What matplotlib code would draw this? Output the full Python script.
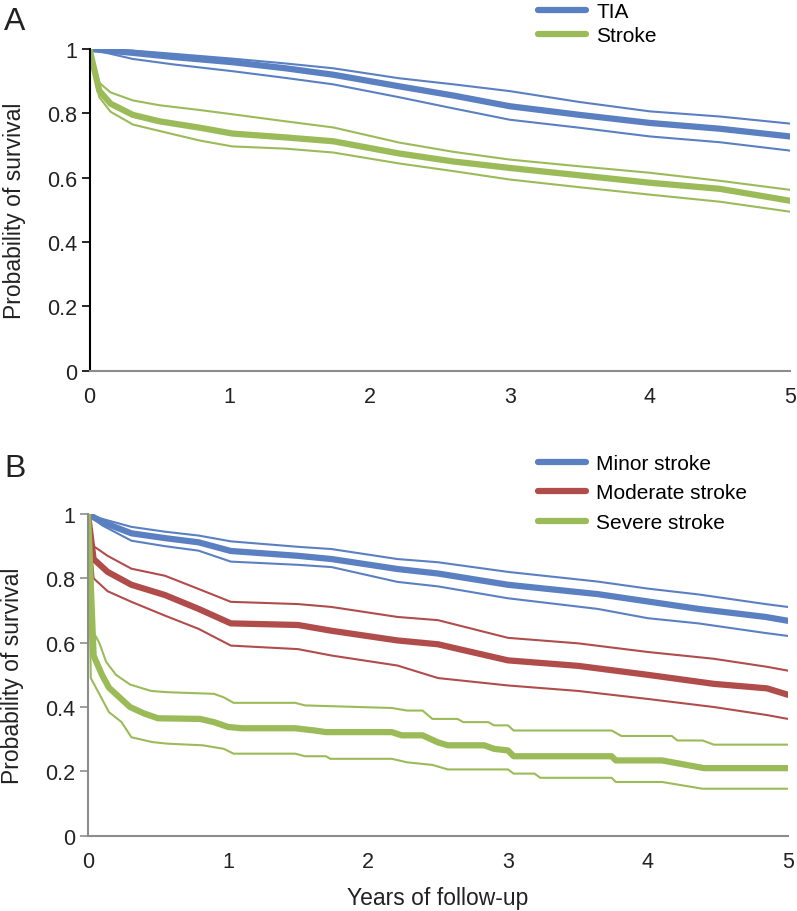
import matplotlib
matplotlib.use('Agg')
import matplotlib.pyplot as plt

plt.rcParams['font.family'] = ['Liberation Sans', 'DejaVu Sans']

# Panel A: TIA vs stroke (estimate, upper CI, lower CI)
tia_x = [0, 0.31, 0.6, 1.02, 1.4, 1.74, 2.21, 2.6, 3.0, 3.5, 4.0, 4.5, 5]
tia_mid = [1, 0.988, 0.975, 0.959, 0.94, 0.92, 0.884, 0.855, 0.822, 0.795, 0.77, 0.752, 0.728]
tia_hi = [1, 0.995, 0.985, 0.97, 0.955, 0.94, 0.909, 0.89, 0.869, 0.835, 0.806, 0.79, 0.768]
tia_lo = [1, 0.969, 0.952, 0.931, 0.91, 0.89, 0.85, 0.815, 0.78, 0.755, 0.728, 0.71, 0.684]

stroke_x = [0, 0.07, 0.15, 0.31, 0.5, 0.79, 1.02, 1.4, 1.74, 2.21, 2.6, 3.0, 3.5, 4.0, 4.5, 5]
stroke_mid = [1, 0.87, 0.83, 0.795, 0.775, 0.755, 0.737, 0.725, 0.713, 0.675, 0.65, 0.63, 0.607, 0.584, 0.565, 0.528]
stroke_hi = [1, 0.895, 0.865, 0.84, 0.825, 0.81, 0.797, 0.775, 0.756, 0.709, 0.68, 0.656, 0.635, 0.615, 0.59, 0.562]
stroke_lo = [1, 0.85, 0.805, 0.765, 0.745, 0.715, 0.697, 0.69, 0.678, 0.644, 0.62, 0.594, 0.57, 0.547, 0.525, 0.494]

# Panel B: by severity
minor_x = [0, 0.1, 0.31, 0.55, 0.79, 1.02, 1.5, 1.74, 2.21, 2.5, 3.0, 3.64, 4.0, 4.36, 4.84, 5]
minor_mid = [1, 0.975, 0.94, 0.925, 0.912, 0.885, 0.87, 0.86, 0.829, 0.815, 0.78, 0.751, 0.728, 0.705, 0.68, 0.668]
minor_hi = [1, 0.985, 0.96, 0.945, 0.933, 0.915, 0.898, 0.891, 0.86, 0.85, 0.82, 0.79, 0.768, 0.75, 0.72, 0.711]
minor_lo = [1, 0.965, 0.917, 0.9, 0.886, 0.852, 0.842, 0.835, 0.789, 0.775, 0.738, 0.705, 0.676, 0.66, 0.63, 0.621]

mod_x = [0, 0.04, 0.14, 0.31, 0.55, 0.79, 1.02, 1.5, 1.74, 2.21, 2.5, 3.0, 3.5, 4.0, 4.47, 4.85, 5]
mod_mid = [1, 0.86, 0.82, 0.78, 0.748, 0.705, 0.66, 0.655, 0.637, 0.607, 0.595, 0.545, 0.528, 0.5, 0.472, 0.458, 0.438]
mod_hi = [1, 0.9, 0.87, 0.83, 0.808, 0.767, 0.727, 0.72, 0.711, 0.68, 0.67, 0.615, 0.598, 0.571, 0.55, 0.525, 0.513]
mod_lo = [1, 0.8, 0.76, 0.727, 0.684, 0.643, 0.591, 0.58, 0.56, 0.529, 0.49, 0.467, 0.45, 0.425, 0.4, 0.375, 0.363]

sev_mid_x = [0, 0.04, 0.1, 0.15, 0.2, 0.3, 0.4, 0.5, 0.8, 0.9, 1.0, 1.1, 1.48, 1.62, 1.7, 2.17, 2.24, 2.39,
             2.5, 2.57, 2.83, 2.9, 3.0, 3.04, 3.74, 3.77, 4.1, 4.4, 5]
sev_mid = [1, 0.56, 0.5, 0.46, 0.44, 0.4, 0.38, 0.365, 0.363, 0.353, 0.338, 0.334, 0.334, 0.327, 0.322, 0.322,
           0.312, 0.312, 0.29, 0.281, 0.281, 0.27, 0.265, 0.247, 0.247, 0.234, 0.234, 0.21, 0.21]
sev_hi_x = [0, 0.03, 0.08, 0.13, 0.2, 0.3, 0.45, 0.57, 0.9, 0.97, 1.04, 1.48, 1.55, 2.17, 2.28, 2.39, 2.46,
            2.64, 2.68, 2.86, 2.9, 3.0, 3.04, 3.74, 3.81, 4.17, 4.21, 4.39, 4.47, 5]
sev_hi = [1, 0.64, 0.6, 0.54, 0.5, 0.47, 0.45, 0.446, 0.441, 0.43, 0.413, 0.413, 0.405, 0.397, 0.389, 0.389,
          0.363, 0.363, 0.353, 0.353, 0.343, 0.343, 0.327, 0.327, 0.31, 0.31, 0.296, 0.296, 0.283, 0.283]
sev_lo_x = [0, 0.02, 0.15, 0.24, 0.31, 0.46, 0.57, 0.82, 0.97, 1.04, 1.48, 1.55, 1.7, 1.73, 2.17, 2.28, 2.46,
            2.57, 3.0, 3.04, 3.19, 3.23, 3.74, 3.77, 4.1, 4.39, 5]
sev_lo = [1, 0.49, 0.384, 0.353, 0.306, 0.291, 0.286, 0.281, 0.27, 0.255, 0.255, 0.247, 0.247, 0.239, 0.239,
          0.228, 0.22, 0.206, 0.206, 0.193, 0.193, 0.18, 0.18, 0.167, 0.167, 0.146, 0.146]

blue = '#5a80c2'
red = '#b04d4b'
green = '#9bbb59'
txt = '#222222'
yticks = [0, 0.2, 0.4, 0.6, 0.8, 1]
yticklabels = ['0', '0.2', '0.4', '0.6', '0.8', '1']

fig = plt.figure(figsize=(7.97, 9.12), dpi=100)
axA = fig.add_axes([89.5 / 797, 1 - 371.5 / 912, (790 - 89.5) / 797, (371.5 - 50) / 912])
axB = fig.add_axes([88 / 797, 1 - 836.7 / 912, (788 - 88) / 797, (836.7 - 515) / 912])


def style(ax, left_color):
    ax.set_xlim(0, 5)
    ax.set_ylim(0, 1)
    ax.spines['top'].set_visible(False)
    ax.spines['right'].set_visible(False)
    ax.spines['left'].set_color(left_color)
    ax.spines['bottom'].set_color('#8c8c8c')
    ax.spines['left'].set_linewidth(1.5)
    ax.spines['bottom'].set_linewidth(1.5)
    ax.set_yticks(yticks)
    ax.set_yticklabels(yticklabels)
    ax.set_xticks([0, 1, 2, 3, 4, 5])
    ax.tick_params(axis='y', length=6, width=1.2, labelsize=15.5, pad=3, labelcolor=txt, color=left_color)
    ax.tick_params(axis='x', length=0, labelsize=15.5, pad=11, labelcolor=txt)
    ax.set_ylabel('Probability of survival', fontsize=16.5, color=txt)
    ax.yaxis.set_label_coords(-0.091, 0.5)


def band(ax, x, mid, hi, lo, color, label, xhi=None, xlo=None):
    xhi = x if xhi is None else xhi
    xlo = x if xlo is None else xlo
    ax.plot(xhi, hi, color=color, lw=1.5, solid_capstyle='round')
    ax.plot(xlo, lo, color=color, lw=1.5, solid_capstyle='round')
    ax.plot(x, mid, color=color, lw=4.5, label=label, solid_capstyle='round')


style(axA, 'black')
band(axA, tia_x, tia_mid, tia_hi, tia_lo, blue, 'TIA')
band(axA, stroke_x, stroke_mid, stroke_hi, stroke_lo, green, 'Stroke')
axA.legend(loc='upper left', bbox_to_anchor=(538 / 797, 1 - 3 / 912), bbox_transform=fig.transFigure,
           frameon=False, fontsize=15, handlelength=2.3, handletextpad=0.5, labelspacing=0.25, borderaxespad=0,
           borderpad=0)

style(axB, '#8c8c8c')
band(axB, minor_x, minor_mid, minor_hi, minor_lo, blue, 'Minor stroke')
band(axB, mod_x, mod_mid, mod_hi, mod_lo, red, 'Moderate stroke')
band(axB, sev_mid_x, sev_mid, sev_hi, sev_lo, green, 'Severe stroke', xhi=sev_hi_x, xlo=sev_lo_x)
axB.legend(loc='upper left', bbox_to_anchor=(538 / 797, 1 - 455 / 912), bbox_transform=fig.transFigure,
           frameon=False, fontsize=15, handlelength=2.3, handletextpad=0.5, labelspacing=0.5, borderaxespad=0,
           borderpad=0)
axB.set_xlabel('Years of follow-up', fontsize=16.5, color=txt)
axB.xaxis.set_label_coords(0.5, -0.155)

fig.text(4 / 797, 1 - 30 / 912, 'A', fontsize=23, color=txt)
fig.text(4 / 797, 1 - 477 / 912, 'B', fontsize=23, color=txt)

fig.savefig('out.png', dpi=100)
